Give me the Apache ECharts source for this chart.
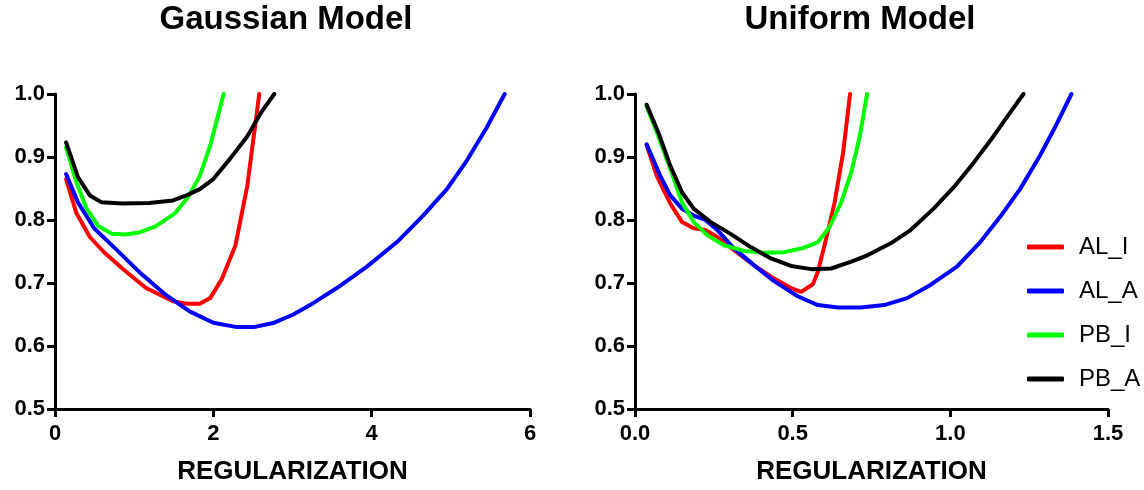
<!DOCTYPE html>
<html>
<head>
<meta charset="utf-8">
<script src="https://cdn.jsdelivr.net/npm/echarts@6/dist/echarts.min.js"></script>
<style>
html,body{margin:0;padding:0;background:#fff;}
#chart{width:1144px;height:490px;}
</style>
</head>
<body>
<div id="chart"></div>
<script>
// ---- DATA ----
const titles = ['Gaussian Model', 'Uniform Model'];
const xAxisName = 'REGULARIZATION';
const seriesNames = ['AL_I', 'AL_A', 'PB_I', 'PB_A'];
const seriesColors = ['#ff0000', '#0000ff', '#00ff00', '#000000'];

// Gaussian model [regularization, value]
const gauss_AL_I = [[0.14,0.865],[0.27,0.811],[0.44,0.773],[0.61,0.75],[0.85,0.723],[1.15,0.692],[1.49,0.671],[1.66,0.667],[1.83,0.667],[1.96,0.676],[2.11,0.707],[2.28,0.76],[2.43,0.855],[2.58,1.0]];
const gauss_AL_A = [[0.14,0.873],[0.29,0.828],[0.50,0.786],[0.76,0.755],[1.06,0.718],[1.40,0.681],[1.70,0.655],[2.0,0.637],[2.30,0.630],[2.51,0.630],[2.77,0.637],[3.01,0.65],[3.26,0.668],[3.56,0.692],[3.94,0.726],[4.32,0.765],[4.65,0.807],[4.95,0.849],[5.2,0.894],[5.45,0.946],[5.68,1.0]];
const gauss_PB_I = [[0.14,0.915],[0.27,0.86],[0.40,0.818],[0.55,0.79],[0.72,0.778],[0.89,0.777],[1.06,0.78],[1.27,0.79],[1.51,0.81],[1.68,0.836],[1.83,0.87],[1.96,0.918],[2.13,1.0]];
const gauss_PB_A = [[0.14,0.923],[0.29,0.868],[0.44,0.839],[0.59,0.828],[0.85,0.826],[1.19,0.827],[1.49,0.831],[1.66,0.839],[1.83,0.849],[2.0,0.865],[2.21,0.897],[2.43,0.933],[2.6,0.97],[2.77,1.0]];

// Uniform model [regularization, value]
const unif_AL_I = [[0.037,0.919],[0.069,0.87],[0.112,0.826],[0.149,0.797],[0.186,0.787],[0.223,0.784],[0.261,0.773],[0.314,0.752],[0.378,0.728],[0.441,0.707],[0.495,0.692],[0.527,0.686],[0.564,0.698],[0.58,0.718],[0.606,0.77],[0.633,0.828],[0.66,0.907],[0.682,1.0]];
const unif_AL_A = [[0.037,0.92],[0.08,0.87],[0.112,0.839],[0.149,0.818],[0.186,0.807],[0.223,0.8],[0.261,0.784],[0.314,0.755],[0.378,0.728],[0.441,0.703],[0.516,0.679],[0.58,0.665],[0.644,0.661],[0.716,0.661],[0.79,0.665],[0.863,0.676],[0.937,0.697],[1.021,0.726],[1.095,0.765],[1.158,0.805],[1.221,0.849],[1.284,0.902],[1.337,0.952],[1.384,1.0]];
const unif_PB_I = [[0.037,0.98],[0.074,0.933],[0.112,0.881],[0.149,0.828],[0.186,0.797],[0.229,0.776],[0.282,0.76],[0.346,0.751],[0.41,0.748],[0.473,0.749],[0.537,0.756],[0.58,0.765],[0.617,0.789],[0.654,0.828],[0.686,0.876],[0.713,0.933],[0.736,1.0]];
const unif_PB_A = [[0.037,0.983],[0.074,0.939],[0.112,0.886],[0.149,0.844],[0.186,0.818],[0.239,0.797],[0.303,0.778],[0.367,0.757],[0.431,0.739],[0.495,0.727],[0.559,0.722],[0.622,0.723],[0.686,0.734],[0.737,0.744],[0.811,0.763],[0.874,0.784],[0.947,0.818],[1.011,0.852],[1.074,0.891],[1.137,0.933],[1.189,0.97],[1.232,1.0]];

const gaussData = [gauss_AL_I, gauss_AL_A, gauss_PB_I, gauss_PB_A];
const unifData = [unif_AL_I, unif_AL_A, unif_PB_I, unif_PB_A];

// axis ranges
const yRange = {min: 0.5, max: 1.0, interval: 0.1};
const gaussX = {min: 0, max: 6, interval: 2};
const unifX = {min: 0, max: 1.5, interval: 0.5};

// ---- CHART ----
const FONT = '"Liberation Sans", Arial, sans-serif';
const chart = echarts.init(document.getElementById('chart'), null, {renderer: 'canvas'});

function xAxis(idx, r, dec) {
  return {
    type: 'value', gridIndex: idx, min: r.min, max: r.max, interval: r.interval,
    name: xAxisName, nameLocation: 'middle', nameGap: 50,
    nameTextStyle: {fontFamily: FONT, fontWeight: 'bold', fontSize: 26, color: '#000'},
    axisLine: {show: true, lineStyle: {color: '#000', width: 3}},
    axisTick: {show: true, length: 8, lineStyle: {color: '#000', width: 3}},
    axisLabel: {fontFamily: FONT, fontWeight: 'bold', fontSize: 22, color: '#000', margin: 14,
      formatter: v => dec ? v.toFixed(1) : String(Math.round(v))},
    splitLine: {show: false}
  };
}
function yAxis(idx) {
  return {
    type: 'value', gridIndex: idx, min: yRange.min, max: yRange.max, interval: yRange.interval,
    axisLine: {show: true, lineStyle: {color: '#000', width: 3}},
    axisTick: {show: true, length: 8, lineStyle: {color: '#000', width: 3}},
    axisLabel: {fontFamily: FONT, fontWeight: 'bold', fontSize: 22, color: '#000', margin: 10,
      formatter: v => v.toFixed(1)},
    splitLine: {show: false}
  };
}

const drawOrder = [3, 2, 1, 0];
const series = [];
[gaussData, unifData].forEach((set, gi) => {
  drawOrder.forEach(si => {
    series.push({
      type: 'line', name: seriesNames[si], xAxisIndex: gi, yAxisIndex: gi,
      data: set[si], showSymbol: false, symbol: 'none', smooth: false,
      lineStyle: {color: seriesColors[si], width: 4, cap: 'round', join: 'round'},
      itemStyle: {color: seriesColors[si]},
      z: 2 + (3 - drawOrder.indexOf(si)), animation: false
    });
  });
});

chart.setOption({
  animation: false,
  backgroundColor: '#fff',
  title: [
    {text: titles[0], left: 286, top: 3, textAlign: 'center', padding: 0,
      textStyle: {fontFamily: FONT, fontWeight: 'bold', fontSize: 33, color: '#000'}},
    {text: titles[1], left: 860, top: 3, textAlign: 'center', padding: 0,
      textStyle: {fontFamily: FONT, fontWeight: 'bold', fontSize: 33, color: '#000'}}
  ],
  legend: {
    data: seriesNames, orient: 'vertical', left: 1022, top: 230,
    itemWidth: 37, itemHeight: 5, itemGap: 20, icon: 'roundRect',
    textStyle: {fontFamily: FONT, fontSize: 24, color: '#000', padding: [0, 0, 0, 10]}
  },
  grid: [
    {left: 55, top: 94, width: 475, height: 318, containLabel: false},
    {left: 635, top: 94, width: 473, height: 318, containLabel: false}
  ],
  xAxis: [xAxis(0, gaussX, false), xAxis(1, unifX, true)],
  yAxis: [yAxis(0), yAxis(1)],
  series: series
});
</script>
</body>
</html>
